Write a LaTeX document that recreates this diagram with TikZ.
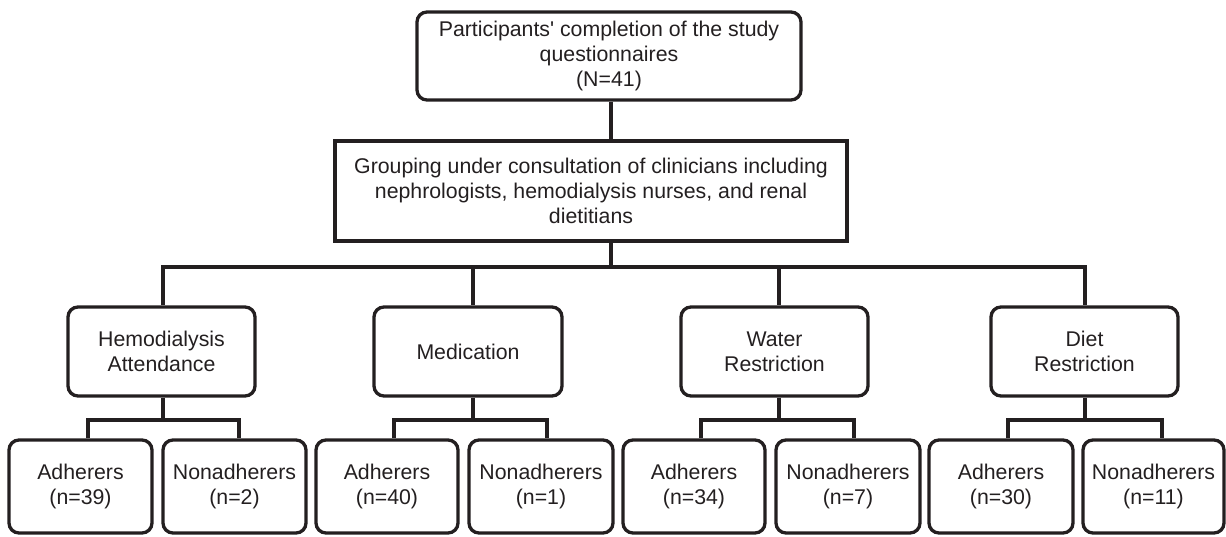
\documentclass[tikz,border=0pt]{standalone}
\usepackage{fontspec}
\setmainfont{Liberation Sans}
\definecolor{ink}{RGB}{35,31,32}
\begin{document}
\begin{tikzpicture}[x=1pt,y=-1pt,
  every node/.style={font=\fontsize{21.3}{25}\selectfont, text=ink},
  rbox/.style={draw=ink, line width=3.3pt, rounded corners=10pt, align=center, inner sep=0pt},
  sbox/.style={draw=ink, line width=3.3pt, align=center, inner sep=0pt},
  conn/.style={draw=ink, line width=3.3pt}]
\useasboundingbox (0,0) rectangle (1226,536);

% top and grouping boxes
\node[rbox, minimum width=384pt, minimum height=88pt] (top) at (609,56)
  {Participants\textquotesingle\ completion of the study\\questionnaires\\(N=41)};
\node[sbox, minimum width=512pt, minimum height=100pt] (grp) at (591,191)
  {Grouping under consultation of clinicians including\\nephrologists, hemodialysis nurses, and renal\\dietitians};

% category boxes
\node[rbox, minimum width=187pt, minimum height=89pt] (hemo) at (161.5,351.5) {Hemodialysis\\Attendance};
\node[rbox, minimum width=188pt, minimum height=89pt] (med) at (468,351.5) {Medication};
\node[rbox, minimum width=187pt, minimum height=89pt] (water) at (774.5,351.5) {Water\\Restriction};
\node[rbox, minimum width=187pt, minimum height=89pt] (diet) at (1084.5,351.5) {Diet\\Restriction};

% bottom boxes
\node[rbox, minimum width=143pt, minimum height=93pt] (ha) at (80.5,486.5) {Adherers\\(n=39)};
\node[rbox, minimum width=143pt, minimum height=93pt] (hn) at (234.5,486.5) {Nonadherers\\(n=2)};
\node[rbox, minimum width=142pt, minimum height=93pt] (ma) at (387,486.5) {Adherers\\(n=40)};
\node[rbox, minimum width=144pt, minimum height=93pt] (mn) at (541,486.5) {Nonadherers\\(n=1)};
\node[rbox, minimum width=142pt, minimum height=93pt] (wa) at (694,486.5) {Adherers\\(n=34)};
\node[rbox, minimum width=144pt, minimum height=93pt] (wn) at (848,486.5) {Nonadherers\\(n=7)};
\node[rbox, minimum width=144pt, minimum height=93pt] (da) at (1001,486.5) {Adherers\\(n=30)};
\node[rbox, minimum width=141pt, minimum height=93pt] (dn) at (1153.5,486.5) {Nonadherers\\(n=11)};

% junction coordinates
\coordinate (c0) at (611,0);
\coordinate (bh) at (163,267);
\coordinate (bm) at (473,267);
\coordinate (bw) at (779,267);
\coordinate (bd) at (1085,267);

\coordinate (hs) at (163,420);
\coordinate (hsa) at (88,420);
\coordinate (hsn) at (239,420);
\coordinate (ms) at (473,420);
\coordinate (msa) at (394,420);
\coordinate (msn) at (547,420);
\coordinate (ws) at (779,420);
\coordinate (wsa) at (701,420);
\coordinate (wsn) at (854,420);
\coordinate (ds) at (1085,420);
\coordinate (dsa) at (1008,420);
\coordinate (dsn) at (1162,420);

% connectors
\draw[conn] (top.south -| c0) -- (grp.north -| c0);
\draw[conn] (grp.south -| c0) -- (c0 |- bh);
\draw[conn] (hemo.north -| bh) -- (bh) -- (bd) -- (diet.north -| bd);
\draw[conn] (bm) -- (med.north -| bm);
\draw[conn] (bw) -- (water.north -| bw);

\draw[conn] (hemo.south -| hs) -- (hs);
\draw[conn] (ha.north -| hsa) -- (hsa) -- (hsn) -- (hn.north -| hsn);
\draw[conn] (med.south -| ms) -- (ms);
\draw[conn] (ma.north -| msa) -- (msa) -- (msn) -- (mn.north -| msn);
\draw[conn] (water.south -| ws) -- (ws);
\draw[conn] (wa.north -| wsa) -- (wsa) -- (wsn) -- (wn.north -| wsn);
\draw[conn] (diet.south -| ds) -- (ds);
\draw[conn] (da.north -| dsa) -- (dsa) -- (dsn) -- (dn.north -| dsn);
\end{tikzpicture}
\end{document}
